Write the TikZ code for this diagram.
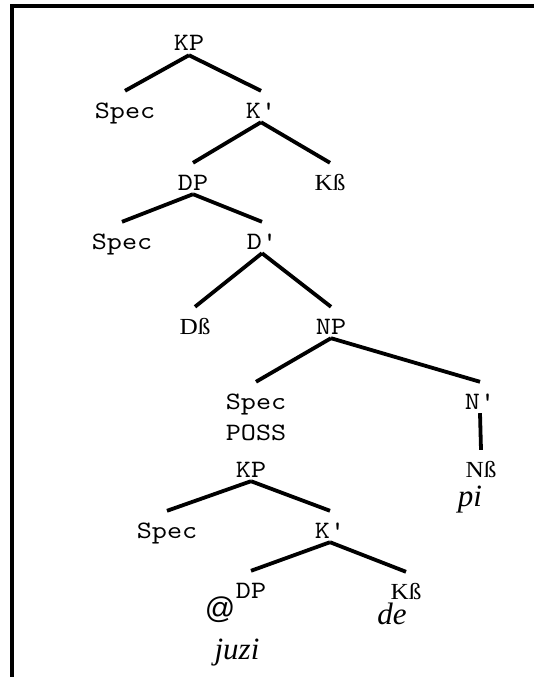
\documentclass[tikz,border=0pt]{standalone}
\usepackage{fontspec}
\usetikzlibrary{positioning}
\newfontfamily\treemono[FakeStretch=1.15]{lmmono10-regular.otf}
\newfontfamily\treehead[FakeStretch=1.1]{Liberation Serif}
\newfontfamily\treeserif{Liberation Serif}
\newfontfamily\treesans{Liberation Sans}
\tikzset{
  cat/.style={
    font=\treemono\fontsize{25}{28}\selectfont,
    inner sep=0pt,
    text height=27pt,
    text depth=4pt,
    anchor=base
  },
  head/.style={
    cat,
    font=\treehead\fontsize{23}{26}\selectfont
  },
  gloss/.style={
    font=\treeserif\itshape\fontsize{31}{33}\selectfont,
    inner sep=0pt,
    anchor=base
  },
  branch/.style={
    line width=3.8pt
  }
}
\begin{document}
\begin{tikzpicture}[x=1pt, y=-1pt]
        \useasboundingbox (0,0) rectangle (534,677);
        \draw[line width=3.2pt] (534,6) -- (12,6) -- (12,677);

        \node[cat] (kp) at (189,51) {KP};
        \node[cat] (specA) at (125,118) {Spec};
        \node[cat] (kbar) at (261,118) {K'};
        \node[cat] (dp) at (193,190) {DP};
        \node[head] (khead) at (330,190) {Kß};
        \node[cat] (specB) at (122,249) {Spec};
        \node[cat] (dbar) at (262,249) {D'};
        \node[head] (dhead) at (195,334) {Dß};
        \node[cat] (np) at (331,334) {NP};
        \node[cat] (specC) at (256,409) {Spec};
        \node[cat, below=31pt of specC.base, anchor=base] (poss) {POSS};
        \node[cat] (nbar) at (480,409) {N'};
        \node[head] (nhead) at (481,477) {Nß};
        \node[gloss, below=29pt of nhead.base, anchor=base, xshift=-11pt] (pi) {pi};

        \node[cat] (kp2) at (251,477) {KP};
        \node[cat] (specD) at (167,538) {Spec};
        \node[cat] (kbar2) at (330,538) {K'};
        \node[cat] (dp2) at (251,598) {DP};
        \node[head] (khead2) at (406,599) {Kß};
        \node[gloss, below=25pt of khead2.base, anchor=base, xshift=-14pt] (de) {de};
        \node[font=\treesans\fontsize{30}{32}\selectfont, inner sep=0pt] (atsign) at (220,610) {@};
        \node[gloss] (juzi) at (237,659) {juzi};

        \draw[branch] (kp.south) -- (specA.north);
        \draw[branch] (kp.south) -- (kbar.north);
        \draw[branch] (kbar.south) -- (dp.north);
        \draw[branch] (kbar.south) -- (khead.north);
        \draw[branch] (dp.south) -- (specB.north);
        \draw[branch] (dp.south) -- (dbar.north);
        \draw[branch] (dbar.south) -- (dhead.north);
        \draw[branch] (dbar.south) -- (np.north);
        \draw[branch] (np.south) -- (specC.north);
        \draw[branch] (np.south) -- (nbar.north);
        \draw[branch] (nbar.south) -- (nhead.north);
        \draw[branch] (kp2.south) -- (specD.north);
        \draw[branch] (kp2.south) -- (kbar2.north);
        \draw[branch] (kbar2.south) -- (dp2.north);
        \draw[branch] (kbar2.south) -- (khead2.north);
      \end{tikzpicture}
\end{document}
